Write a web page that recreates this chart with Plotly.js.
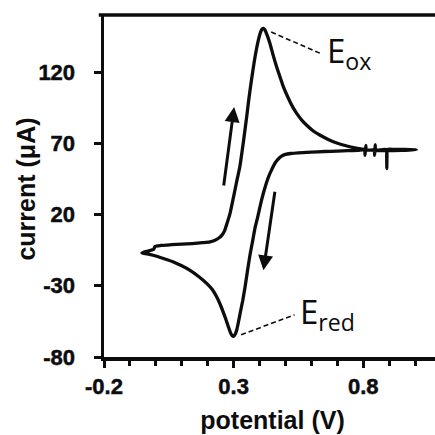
<!DOCTYPE html>
<html><head><meta charset="utf-8">
<script src="https://cdn.plot.ly/plotly-3.0.1.min.js"></script>
<style>
html,body{margin:0;padding:0;overflow:hidden;background:#fff}
.xtick text, .ytick text { font-weight: 700 !important; stroke: #0d0d0d; stroke-width: 0.5px; }
</style>
</head><body><div id="chart" style="width:441px;height:435px"></div>
<script>
// cyclic voltammogram: forward (upper) branch, then reverse branch back to start
const potentialV = [
 -0.054,-0.030,-0.008,-0.003,0.020,0.060,0.100,0.140,0.180,0.209,0.228,0.243,0.255,0.265,0.274,0.286,0.297,0.305,0.314,0.324,
 0.337,0.350,0.358,0.367,0.376,0.386,0.395,0.404,0.410,0.415,0.421,0.430,0.441,0.453,0.467,0.480,0.492,0.505,0.518,0.531,
 0.544,0.562,0.582,0.606,0.634,0.665,0.698,0.730,0.762,0.790,0.814,0.850,0.900,0.950,1.005,
 0.960,0.920,0.8935,0.8915,0.891,0.8905,0.889,0.870,0.848,0.846,0.844,0.842,0.812,0.810,0.807,0.805,
 0.780,0.740,0.700,0.650,0.600,0.550,0.520,0.500,0.485,0.470,0.458,0.447,0.437,0.428,0.418,0.409,0.400,0.392,0.383,
 0.374,0.364,0.354,0.344,0.335,0.325,0.318,0.312,0.306,0.300,0.294,0.287,0.280,0.271,0.261,0.248,0.235,0.217,0.197,0.165,
 0.132,0.100,0.068,0.035,0.003,-0.025,-0.054
];
const currentUA = [
 -7.0,-5.6,-4.4,-2.4,-1.7,-1.2,-0.8,-0.4,0.2,0.8,2.0,3.5,5.5,8.5,13.5,20.6,30.0,37.0,45.0,53.5,
 70.0,88.0,100.0,112.0,123.0,134.0,142.0,148.0,150.2,150.6,149.5,145.5,139.5,131.5,123.0,116.0,109.5,104.0,99.0,94.5,
 90.8,86.4,82.6,78.8,75.6,72.7,70.2,68.4,67.0,66.0,65.4,65.0,64.9,65.0,65.5,
 65.6,65.6,65.6,60.0,52.2,60.0,65.6,65.4,65.3,69.0,61.5,65.3,65.2,68.5,61.5,65.2,
 65.0,64.8,64.5,64.2,63.8,63.3,62.8,62.2,61.0,58.5,55.5,51.5,47.5,43.0,37.0,31.0,24.0,17.5,11.0,
 2.0,-7.5,-19.0,-31.0,-40.5,-49.5,-56.0,-61.0,-64.0,-65.5,-65.0,-62.5,-58.9,-54.0,-49.0,-43.0,-37.9,-32.5,-28.5,-23.5,
 -19.2,-16.0,-13.3,-11.2,-9.3,-8.0,-7.0
];
const xTickVals = [-0.2, 0.3, 0.8];
const xTickText = ['-0.2', '0.3', '0.8'];
const yTickVals = [-80, -30, 20, 70, 120];
const yTickText = ['-80', '-30', '20', '70', '120'];
const xRange = [-0.2, 1.1];
const yRange = [-80, 160];
const xTitle = 'potential (V)';
const yTitle = 'current (μA)';

const peakLabels = ['E<sub>ox</sub>', 'E<sub>red</sub>'];
const peakLabelX = [0.653, 0.547];
const peakLabelY = [134.0, -49.8];
const leaderX0 = [0.445, 0.329];
const leaderY0 = [148.0, -64.4];
const leaderX1 = [0.637, 0.535];
const leaderY1 = [132.9, -50.4];

const scanArrowTailX = [0.261, 0.460];
const scanArrowTailY = [39.3, 37.0];
const scanArrowTipX = [0.302, 0.415];
const scanArrowTipY = [95.4, -19.2];

const ink = '#0d0d0d';
const boldFont = {family: '"Liberation Sans", Arial, sans-serif', size: 22, color: ink, weight: 'bold'};
const titleFont = {family: '"Liberation Sans", Arial, sans-serif', size: 25, color: ink, weight: 'bold'};
const bold = s => '<b>' + s + '</b>';

const annotations = [];
peakLabels.forEach((t, i) => annotations.push({
  x: peakLabelX[i], y: peakLabelY[i], xref: 'x', yref: 'y', text: t, showarrow: false,
  xanchor: 'left', yanchor: 'middle',
  font: {family: '"Open Sans", "Noto Sans", sans-serif', size: 33, color: ink}
}));
scanArrowTipX.forEach((x, i) => annotations.push({
  x: x, y: scanArrowTipY[i], ax: scanArrowTailX[i], ay: scanArrowTailY[i],
  xref: 'x', yref: 'y', axref: 'x', ayref: 'y', text: '', showarrow: true,
  arrowhead: 2, arrowsize: 1, arrowwidth: 3, arrowcolor: ink, standoff: 0
}));
// y-axis title, placed as a rotated annotation so it can sit closer to the tick labels
annotations.push({
  xref: 'paper', yref: 'paper', x: -0.23, y: 0.491, xanchor: 'center', yanchor: 'middle',
  text: bold(yTitle), textangle: -90, showarrow: false, font: titleFont
});
const shapes = leaderX0.map((x, i) => ({
  type: 'line', xref: 'x', yref: 'y', x0: x, y0: leaderY0[i], x1: leaderX1[i], y1: leaderY1[i],
  line: {color: ink, width: 1.6, dash: '5px,3px'}
}));
// top frame line (the right side of the frame is cropped away in the reference)
shapes.push({type: 'line', xref: 'paper', yref: 'paper', x0: -0.0155, x1: 1.02, y0: 1, y1: 1,
  line: {color: ink, width: 3.5}, layer: 'above'});

Plotly.newPlot('chart', [{
  x: potentialV, y: currentUA, type: 'scatter', mode: 'lines',
  line: {color: ink, width: 3.3, shape: 'spline', smoothing: 0.6},
  hoverinfo: 'skip', showlegend: false
}], {
  width: 441, height: 435,
  margin: {l: 104, r: 0, t: 15, b: 78},
  paper_bgcolor: '#fff', plot_bgcolor: '#fff',
  showlegend: false,
  xaxis: {
    range: xRange, tickvals: xTickVals, ticktext: xTickText.map(bold),
    ticks: 'outside', ticklen: 7, tickwidth: 3, tickcolor: ink,
    minor: {dtick: 0.1, tick0: -0.2, ticks: 'outside', ticklen: 5, tickwidth: 3, tickcolor: ink, showgrid: false},
    showline: true, linewidth: 3.5, linecolor: ink, mirror: false,
    showgrid: false, zeroline: false, tickfont: boldFont, ticklabelstandoff: 0,
    title: {text: bold(xTitle), font: titleFont, standoff: 14}
  },
  yaxis: {
    range: yRange, tickvals: yTickVals, ticktext: yTickText.map(bold),
    ticks: 'outside', ticklen: 7, tickwidth: 3, tickcolor: ink,
    showline: true, linewidth: 3.5, linecolor: ink, mirror: false,
    showgrid: false, zeroline: false, tickfont: boldFont, ticklabelstandoff: 14
  },
  annotations: annotations,
  shapes: shapes
}, {staticPlot: true, displayModeBar: false});
</script></body></html>
